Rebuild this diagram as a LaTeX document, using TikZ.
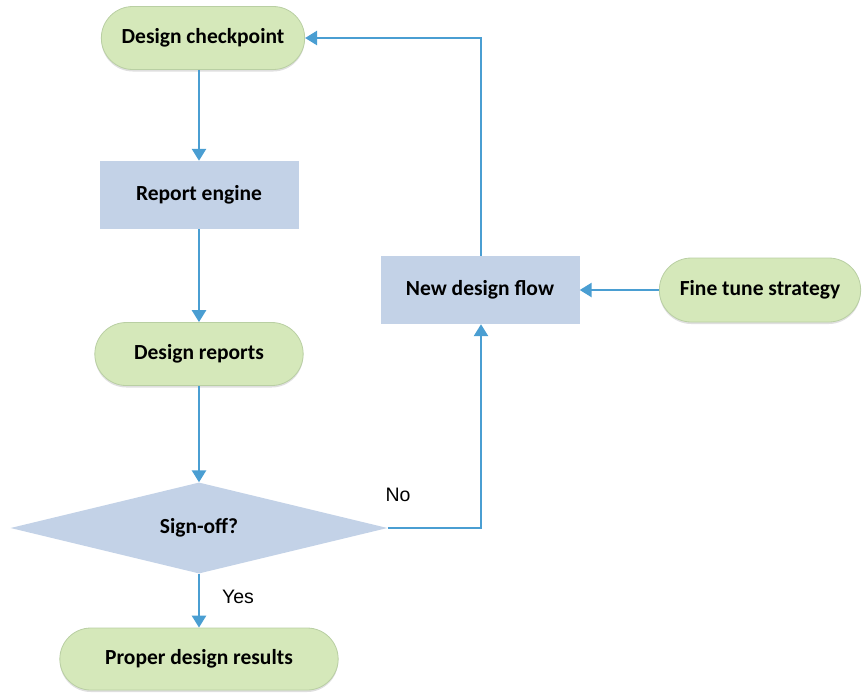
\documentclass[tikz,border=0pt]{standalone}
\usepackage{fontspec}
\setmainfont{Carlito}
\newfontfamily\arialfont{Liberation Sans}
\usetikzlibrary{shapes.geometric,shapes.misc,arrows.meta,shadows}
\definecolor{greenfill}{HTML}{D5E8BA}
\definecolor{greenedge}{HTML}{B9CFA3}
\definecolor{bluefill}{HTML}{C3D2E7}
\definecolor{arrowblue}{HTML}{4A9ED2}
\tikzset{
  term/.style={rounded rectangle, fill=greenfill, draw=greenedge, line width=0.8pt,
    minimum height=63pt, font=\bfseries\fontsize{21.5}{24}\selectfont,
    drop shadow={shadow xshift=0pt, shadow yshift=-2pt, opacity=0.25, fill=gray}},
  proc/.style={rectangle, fill=bluefill, draw=none, minimum height=68pt, minimum width=199pt,
    font=\bfseries\fontsize{21.5}{24}\selectfont},
  decision/.style={diamond, fill=bluefill, draw=none, aspect=4.15, inner sep=0pt,
    minimum width=377pt, minimum height=91pt, font=\bfseries\fontsize{21.5}{24}\selectfont},
  flow/.style={draw=arrowblue, line width=2.6pt, -{Triangle[length=12pt,width=14pt]}},
  lbl/.style={font=\arialfont\fontsize{19.5}{22}\selectfont}
}
\begin{document}
\begin{tikzpicture}[x=1pt,y=-1pt]
\useasboundingbox (0,0) rectangle (865,697);
\node[term, minimum width=210pt] (dc) at (203,38) {Design checkpoint};
\node[proc] (re) at (199,195) {Report engine};
\node[term, minimum width=215pt] (dr) at (199,354) {Design reports};
\node[decision] (so) at (199,528) {Sign-off?};
\node[term, minimum width=285pt, minimum height=62pt] (pr) at (199,659) {Proper design results};
\node[proc] (nd) at (480,290) {New design flow};
\node[term, minimum width=208pt, minimum height=64pt] (ft) at (760,290) {Fine tune strategy};
\coordinate (c1) at (481,38);
\draw[flow] (dc.south -| re.north) -- (re.north);
\draw[flow] (re.south) -- (dr.north);
\draw[flow] (dr.south) -- (so.north);
\draw[flow] (so.south) -- (pr.north);
\draw[flow] (so.east) -| (nd.south -| c1);
\draw[flow] (nd.north -| c1) |- (dc.east);
\draw[flow] (ft.west) -- (nd.east);
\node[lbl] (no) at (398,495) {No};
\node[lbl] (yes) at (238,597) {Yes};
\end{tikzpicture}
\end{document}
